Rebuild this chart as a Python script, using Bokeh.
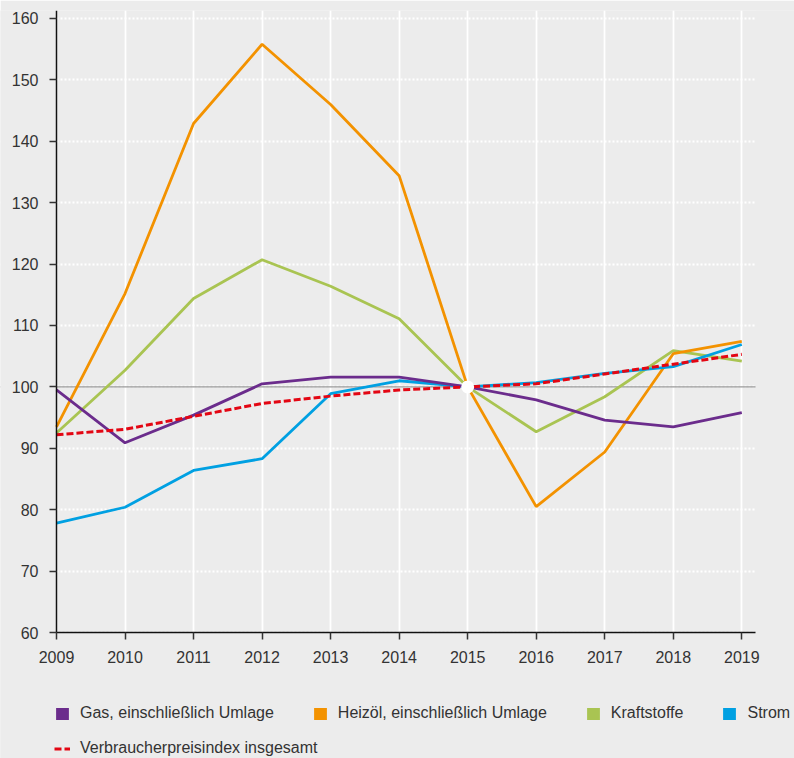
from bokeh.plotting import figure
from bokeh.models import (FixedTicker, Span, Legend, LegendItem, Range1d,
                          ColumnDataSource, BoxAnnotation)
from bokeh.embed import file_html
from bokeh.resources import INLINE

years = [2009, 2010, 2011, 2012, 2013, 2014, 2015, 2016, 2017, 2018, 2019]
gas = [99.5, 90.9, 95.4, 100.5, 101.6, 101.6, 100.0, 97.9, 94.6, 93.5, 95.8]
heizoel = [93.5, 115.2, 142.9, 155.8, 146.0, 134.4, 100.0, 80.5, 89.4, 105.4, 107.4]
kraftstoffe = [92.5, 102.7, 114.4, 120.7, 116.4, 111.1, 100.0, 92.7, 98.4, 105.9, 104.2]
strom = [77.8, 80.4, 86.4, 88.3, 98.9, 101.0, 100.0, 100.7, 102.2, 103.3, 106.9]
vpi = [92.2, 93.1, 95.2, 97.3, 98.5, 99.5, 100.0, 100.5, 102.1, 103.7, 105.3]

base_year = [2015]
base_value = [100.0]

y_ticks = [60, 70, 80, 90, 100, 110, 120, 130, 140, 150, 160]
y_axis_min, y_axis_top = 60, 161.3
x_axis_min, x_axis_max = 2009, 2019.2

labels = ["Gas, einschließlich Umlage", "Heizöl, einschließlich Umlage", "Kraftstoffe", "Strom"]
vpi_label = "Verbraucherpreisindex insgesamt"

colors = {
    "gas": "#6b2c8c",
    "heizoel": "#f39200",
    "kraftstoffe": "#a9c452",
    "strom": "#00a0e2",
    "vpi": "#e30613",
}

BG = "#ececec"
FONT = "Liberation Sans"
LW = 2.8

# layout: the frame covers the whole figure below a 10 px top border;
# the plotting area is 699 x 622 px starting at (56, 10).
W, H = 794, 758
TOP, LEFT, PLOT_W, PLOT_H = 10, 56, 699, 622
ppu_y = PLOT_H / (y_axis_top - y_axis_min)
ppu_x = PLOT_W / (x_axis_max - x_axis_min)
y_lo = y_axis_min - (H - TOP - PLOT_H) / ppu_y
x_lo = x_axis_min - LEFT / ppu_x
x_hi = x_axis_max + (W - LEFT - PLOT_W) / ppu_x

p = figure(width=W, height=H, output_backend="svg", toolbar_location=None,
           x_range=Range1d(x_lo, x_hi), y_range=Range1d(y_lo, y_axis_top),
           min_border_left=0, min_border_right=0, min_border_top=TOP, min_border_bottom=0)
p.background_fill_color = BG
p.border_fill_color = BG
p.outline_line_color = None

# grids
p.xgrid.ticker = FixedTicker(ticks=years)
p.xgrid.grid_line_color = "white"
p.xgrid.grid_line_width = 1.8
p.ygrid.ticker = FixedTicker(ticks=y_ticks)
p.ygrid.grid_line_color = "white"
p.ygrid.grid_line_width = 2
p.ygrid.grid_line_dash = "2 2"

ref = Span(location=base_value[0], dimension="width", line_color="#9a9a9a", line_width=1.2)
ref.level = "underlay"
p.add_layout(ref)

# mask grid outside the plotting area (legend and label margins)
for kw in (dict(top=y_axis_min), dict(right=x_axis_min), dict(left=x_axis_max)):
    p.add_layout(BoxAnnotation(fill_color=BG, fill_alpha=1, line_color=None, level="underlay", **kw))

# axes
for ax in (p.xaxis[0], p.yaxis[0]):
    ax.axis_line_color = "#111111"
    ax.axis_line_width = 1.5
    ax.major_tick_line_color = "#333333"
    ax.major_tick_line_width = 1.5
    ax.major_tick_out = 7
    ax.major_tick_in = 0
    ax.minor_tick_line_color = None
    ax.major_label_text_font = FONT
    ax.major_label_text_font_size = "16px"
    ax.major_label_text_color = "#333333"
    ax.major_label_standoff = 11
p.xaxis.ticker = FixedTicker(ticks=years)
p.xaxis.fixed_location = y_axis_min
p.xaxis.bounds = (x_axis_min, x_axis_max)
p.yaxis.ticker = FixedTicker(ticks=y_ticks)
p.yaxis.fixed_location = x_axis_min
p.yaxis.bounds = (y_axis_min, y_axis_top)

src = ColumnDataSource(dict(x=years, gas=gas, heizoel=heizoel, kraftstoffe=kraftstoffe, strom=strom, vpi=vpi))

p.line("x", "kraftstoffe", source=src, line_color=colors["kraftstoffe"], line_width=LW)
p.line("x", "heizoel", source=src, line_color=colors["heizoel"], line_width=LW)
p.line("x", "strom", source=src, line_color=colors["strom"], line_width=LW)
p.line("x", "gas", source=src, line_color=colors["gas"], line_width=LW)
r_vpi = p.line("x", "vpi", source=src, line_color=colors["vpi"], line_width=3, line_dash="7 3")

p.scatter(base_year, base_value, size=13, fill_color="white", line_color=None)

# legend swatches: glyphs with no drawable data, used only by the legend
nan = float("nan")
swatches = []
for key in ["gas", "heizoel", "kraftstoffe", "strom"]:
    r = p.quad(left=[nan], right=[nan], top=[nan], bottom=[nan], fill_color=colors[key], line_color=None)
    swatches.append(r)

common = dict(orientation="horizontal", padding=0, margin=0, spacing=38,
              glyph_width=16, glyph_height=15, label_standoff=10, label_height=20,
              label_text_font=FONT, label_text_font_size="16px", label_text_color="#333333",
              border_line_color=None, background_fill_alpha=0)

leg1 = Legend(items=[LegendItem(label=l, renderers=[r]) for l, r in zip(labels, swatches)],
              location=(54, 35), **common)
leg2 = Legend(items=[LegendItem(label=vpi_label, renderers=[r_vpi])],
              location=(54, 0), **common)
p.add_layout(leg1)
p.add_layout(leg2)

open("out.html", "w").write(file_html(p, INLINE))
